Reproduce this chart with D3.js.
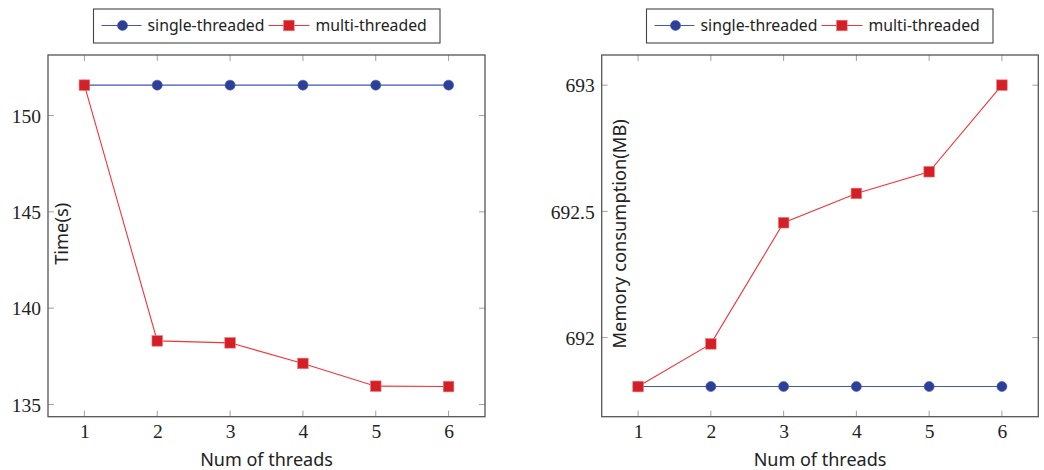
<!DOCTYPE html>
<html><head><meta charset="utf-8">
<script src="https://cdn.jsdelivr.net/npm/d3@7"></script>
<style>body{margin:0;background:#fff}svg{display:block}
.tl text{font-family:"Liberation Serif","Times New Roman",serif !important;}
</style>
</head><body>
<svg id="c" width="1044" height="470"></svg>
<script>
const threads = [1, 2, 3, 4, 5, 6];
const seriesNames = ["single-threaded", "multi-threaded"];
const timeSingle = [151.58, 151.58, 151.58, 151.58, 151.58, 151.58];
const timeMulti = [151.58, 138.30, 138.20, 137.13, 135.95, 135.93];
const memSingle = [691.806, 691.806, 691.806, 691.806, 691.806, 691.806];
const memMulti = [691.806, 691.975, 692.455, 692.571, 692.657, 693.0];
const timeTicks = [135, 140, 145, 150];
const memTicks = [692, 692.5, 693];
const xTicks = [1, 2, 3, 4, 5, 6];

const svg = d3.select("#c");
const colors = {
  single: {line: "#4357b5", mark: "#2e3f98"},
  multi: {line: "#f2353a", mark: "#d41f27"}
};

function panel(o) {
  const g = svg.append("g");
  const x = d3.scaleLinear().domain([0.5, 6.5]).range([o.left, o.right]);
  const all = o.s1.concat(o.s2);
  const mn = d3.min(all), mx = d3.max(all), pad = (mx - mn) * 0.1;
  const y = d3.scaleLinear().domain([mn - pad, mx + pad]).range([o.bottom, o.top]);

  const tk = g.append("g").attr("stroke", "#a0a0a0").attr("stroke-width", 1);
  xTicks.forEach(t => {
    tk.append("line").attr("x1", x(t)).attr("x2", x(t)).attr("y1", o.bottom).attr("y2", o.bottom - 6);
    tk.append("line").attr("x1", x(t)).attr("x2", x(t)).attr("y1", o.top).attr("y2", o.top + 6);
  });
  o.yTicks.forEach(t => {
    tk.append("line").attr("x1", o.left).attr("x2", o.left + 6).attr("y1", y(t)).attr("y2", y(t));
    tk.append("line").attr("x1", o.right).attr("x2", o.right - 6).attr("y1", y(t)).attr("y2", y(t));
  });

  const xa = g.append("g").attr("class", "tl").attr("transform", `translate(0,${o.bottom})`)
    .call(d3.axisBottom(x).tickValues(xTicks).tickSize(0).tickPadding(21).tickFormat(d3.format("d")));
  const ya = g.append("g").attr("class", "tl").attr("transform", `translate(${o.left},0)`)
    .call(d3.axisLeft(y).tickValues(o.yTicks).tickSize(0).tickPadding(7).tickFormat(d => String(d)));
  [xa, ya].forEach(a => {
    a.attr("font-family", null);
    a.select(".domain").remove();
    a.selectAll("text").attr("font-size", 19.5).attr("fill", "#222");
  });
  xa.selectAll("text").attr("dy", "0");
  ya.selectAll("text").attr("dy", "0.34em");

  g.append("rect").attr("x", o.left).attr("y", o.top).attr("width", o.right - o.left).attr("height", o.bottom - o.top)
    .attr("fill", "none").attr("stroke", "#555").attr("stroke-width", 1.3);

  const line = d3.line().x((d, i) => x(threads[i])).y(d => y(d));
  g.append("path").datum(o.s1).attr("d", line).attr("fill", "none").attr("stroke", colors.single.line).attr("stroke-width", 1.1);
  g.selectAll(".c").data(o.s1).enter().append("circle")
    .attr("cx", (d, i) => x(threads[i])).attr("cy", d => y(d)).attr("r", 5)
    .attr("fill", colors.single.mark).attr("stroke", colors.single.line).attr("stroke-width", 0.6);
  g.append("path").datum(o.s2).attr("d", line).attr("fill", "none").attr("stroke", colors.multi.line).attr("stroke-width", 1.1);
  g.selectAll(".s").data(o.s2).enter().append("rect")
    .attr("x", (d, i) => x(threads[i]) - 5.3).attr("y", d => y(d) - 5.3).attr("width", 10.6).attr("height", 10.6)
    .attr("fill", colors.multi.mark).attr("stroke", "#f07a7e").attr("stroke-width", 0.6);

  g.append("text").attr("x", (o.left + o.right) / 2).attr("y", 466).attr("text-anchor", "middle")
    .attr("font-family", "'Noto Sans', sans-serif").attr("font-size", 18).attr("fill", "#222").text("Num of threads");
  g.append("text").attr("transform", `translate(${o.ylabX},${(o.top + o.bottom) / 2 - 2}) rotate(-90)`)
    .attr("text-anchor", "middle").attr("font-family", "'Noto Sans', sans-serif").attr("font-size", 18.3).attr("fill", "#222")
    .text(o.ylabel);

  const L = g.append("g");
  L.append("rect").attr("x", o.legX).attr("y", 9).attr("width", 346.5).attr("height", 34)
    .attr("fill", "#fff").attr("stroke", "#444").attr("stroke-width", 1.1);
  const ly = 25.5;
  const lx = o.legX;
  L.append("line").attr("x1", lx + 8).attr("x2", lx + 48).attr("y1", ly).attr("y2", ly).attr("stroke", colors.single.line).attr("stroke-width", 1.1);
  L.append("circle").attr("cx", lx + 29).attr("cy", ly).attr("r", 5).attr("fill", colors.single.mark).attr("stroke", colors.single.line).attr("stroke-width", 0.6);
  L.append("text").attr("x", lx + 54).attr("y", ly).attr("dy", "0.35em").attr("font-family", "'Noto Sans', sans-serif")
    .attr("font-size", 15.8).attr("fill", "#222").text(seriesNames[0]);
  L.append("line").attr("x1", lx + 175).attr("x2", lx + 216).attr("y1", ly).attr("y2", ly).attr("stroke", colors.multi.line).attr("stroke-width", 1.1);
  L.append("rect").attr("x", lx + 195.4 - 5.3).attr("y", ly - 5.3).attr("width", 10.6).attr("height", 10.6)
    .attr("fill", colors.multi.mark).attr("stroke", "#f07a7e").attr("stroke-width", 0.6);
  L.append("text").attr("x", lx + 222).attr("y", ly).attr("dy", "0.35em").attr("font-family", "'Noto Sans', sans-serif")
    .attr("font-size", 15.8).attr("fill", "#222").text(seriesNames[1]);
}

panel({left: 48, right: 485, top: 55, bottom: 416.7, s1: timeSingle, s2: timeMulti, yTicks: timeTicks,
  ylabel: "Time(s)", ylabX: 68, legX: 93.5});
panel({left: 601.7, right: 1038.3, top: 55, bottom: 416.7, s1: memSingle, s2: memMulti, yTicks: memTicks,
  ylabel: "Memory consumption(MB)", ylabX: 626, legX: 646.5});
</script>
</body></html>
